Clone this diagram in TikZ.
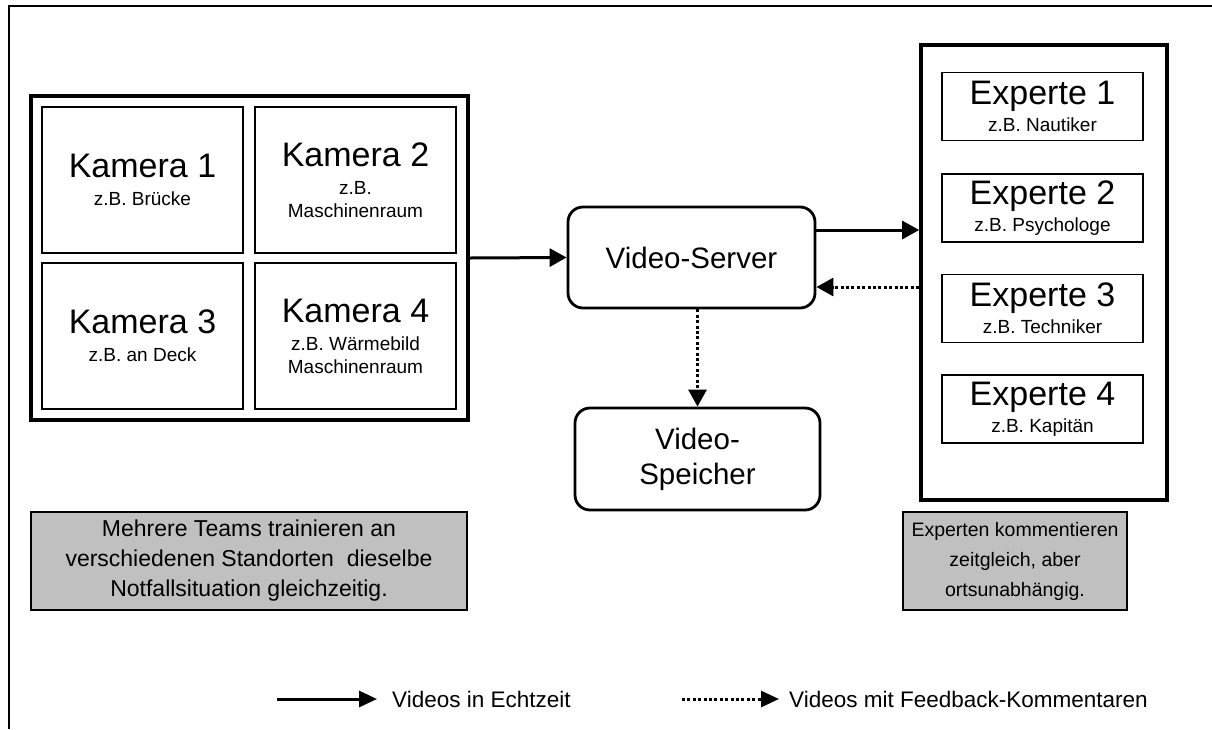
\documentclass[tikz,border=0pt]{standalone}
\usepackage{fontspec}
\setmainfont{Liberation Sans}
\usetikzlibrary{arrows.meta, positioning}
\definecolor{notegray}{RGB}{192,192,192}
\newcommand{\titlesize}{\fontsize{34}{38}\selectfont}
\newcommand{\subsize}{\fontsize{19}{23}\selectfont}
\tikzset{
	holder/.style={draw, line width=3.6pt, inner sep=0pt},
	camera/.style={draw, line width=1.6pt, minimum width=201pt, minimum height=146pt, align=center, inner sep=0pt, font=\subsize},
	expert/.style={draw, line width=1.6pt, minimum width=201pt, minimum height=68pt, align=center, inner sep=0pt, font=\subsize},
	server/.style={draw, line width=2.8pt, rounded corners=15pt, align=center, inner sep=0pt, font=\fontsize{29.5}{35}\selectfont},
	note/.style={draw, line width=1.6pt, fill=notegray, align=center, inner sep=0pt, minimum height=98pt},
	realtime/.style={-{Triangle[length=17pt, width=18pt]}, line width=3pt},
	feedback/.style={realtime, dash pattern=on 3pt off 2.4pt},
	legendtext/.style={anchor=west, inner sep=0pt, font=\fontsize{22.5}{26}\selectfont}
}
\begin{document}
\begin{tikzpicture}[x=1pt, y=-1pt]
	\useasboundingbox (0,0) rectangle (1212,729);
	
	% frame, only left and top edge visible
	\draw[line width=1.8pt] (9,729) -- (9,6) -- (1212,6);
	
	% camera wall
	\node[holder, minimum width=437pt, minimum height=324pt] (cams) at (249.5,258) {};
	\node[camera] (cam1) at (142.5,180) {{\titlesize Kamera 1}\\[5pt]z.B. Brücke};
	\node[camera] (cam2) at (355.5,180) {{\titlesize Kamera 2}\\[5pt]z.B.\\Maschinenraum};
	\node[camera] (cam3) at (142.5,336) {{\titlesize Kamera 3}\\[5pt]z.B. an Deck};
	\node[camera] (cam4) at (355.5,336) {{\titlesize Kamera 4}\\[5pt]z.B. Wärmebild\\Maschinenraum};
	
	% server and storage
	\node[server, minimum width=247pt, minimum height=101pt] (server) at (691.5,257.5) {Video-Server};
	\node[server, minimum width=245pt, minimum height=102pt] (store) at (697.5,459) {Video-\\Speicher};
	
	% experts
	\node[holder, minimum width=246pt, minimum height=455pt] (experts) at (1044,272.5) {};
	\node[expert] (exp1) at (1042.5,106.5) {{\titlesize Experte 1}\\[4pt]z.B. Nautiker};
	\node[expert] (exp2) at (1042.5,208) {{\titlesize Experte 2}\\[4pt]z.B. Psychologe};
	\node[expert] (exp3) at (1042.5,308.5) {{\titlesize Experte 3}\\[4pt]z.B. Techniker};
	\node[expert] (exp4) at (1042.5,409) {{\titlesize Experte 4}\\[4pt]z.B. Kapitän};
	
	% notes
	\node[note, minimum width=436pt, font=\fontsize{23}{30}\selectfont] (teams) at (249,561)
		{Mehrere Teams trainieren an\\verschiedenen Standorten~ dieselbe\\Notfallsituation gleichzeitig.};
	\node[note, minimum width=224pt, font=\fontsize{19.5}{30}\selectfont] (comments) at (1015,561)
		{Experten kommentieren\\zeitgleich, aber\\ortsunabhängig.};
	
	% connections
	\coordinate (outA) at ([yshift=27.5pt]server.east);
	\coordinate (inB) at ([yshift=-29.5pt]server.east);
	\draw[realtime] (cams.east) -- (server.west);
	\draw[realtime] (outA) -- (outA -| experts.west);
	\draw[feedback] (inB -| experts.west) -- (inB);
	\draw[feedback] (store.north |- server.south) -- (store.north);
	
	% legend
	\coordinate (rtstart) at (277,699);
	\node[legendtext] (rttext) at (392,699) {Videos in Echtzeit};
	\draw[realtime, -{Triangle[length=18pt, width=16pt]}] (rtstart) -- ([xshift=-15pt]rttext.west);
	\coordinate (fbstart) at (682,699);
	\node[legendtext] (fbtext) at (789,699) {Videos mit Feedback-Kommentaren};
	\draw[feedback, -{Triangle[length=18pt, width=16pt]}] (fbstart) -- ([xshift=-10pt]fbtext.west);
	
\end{tikzpicture}
\end{document}
